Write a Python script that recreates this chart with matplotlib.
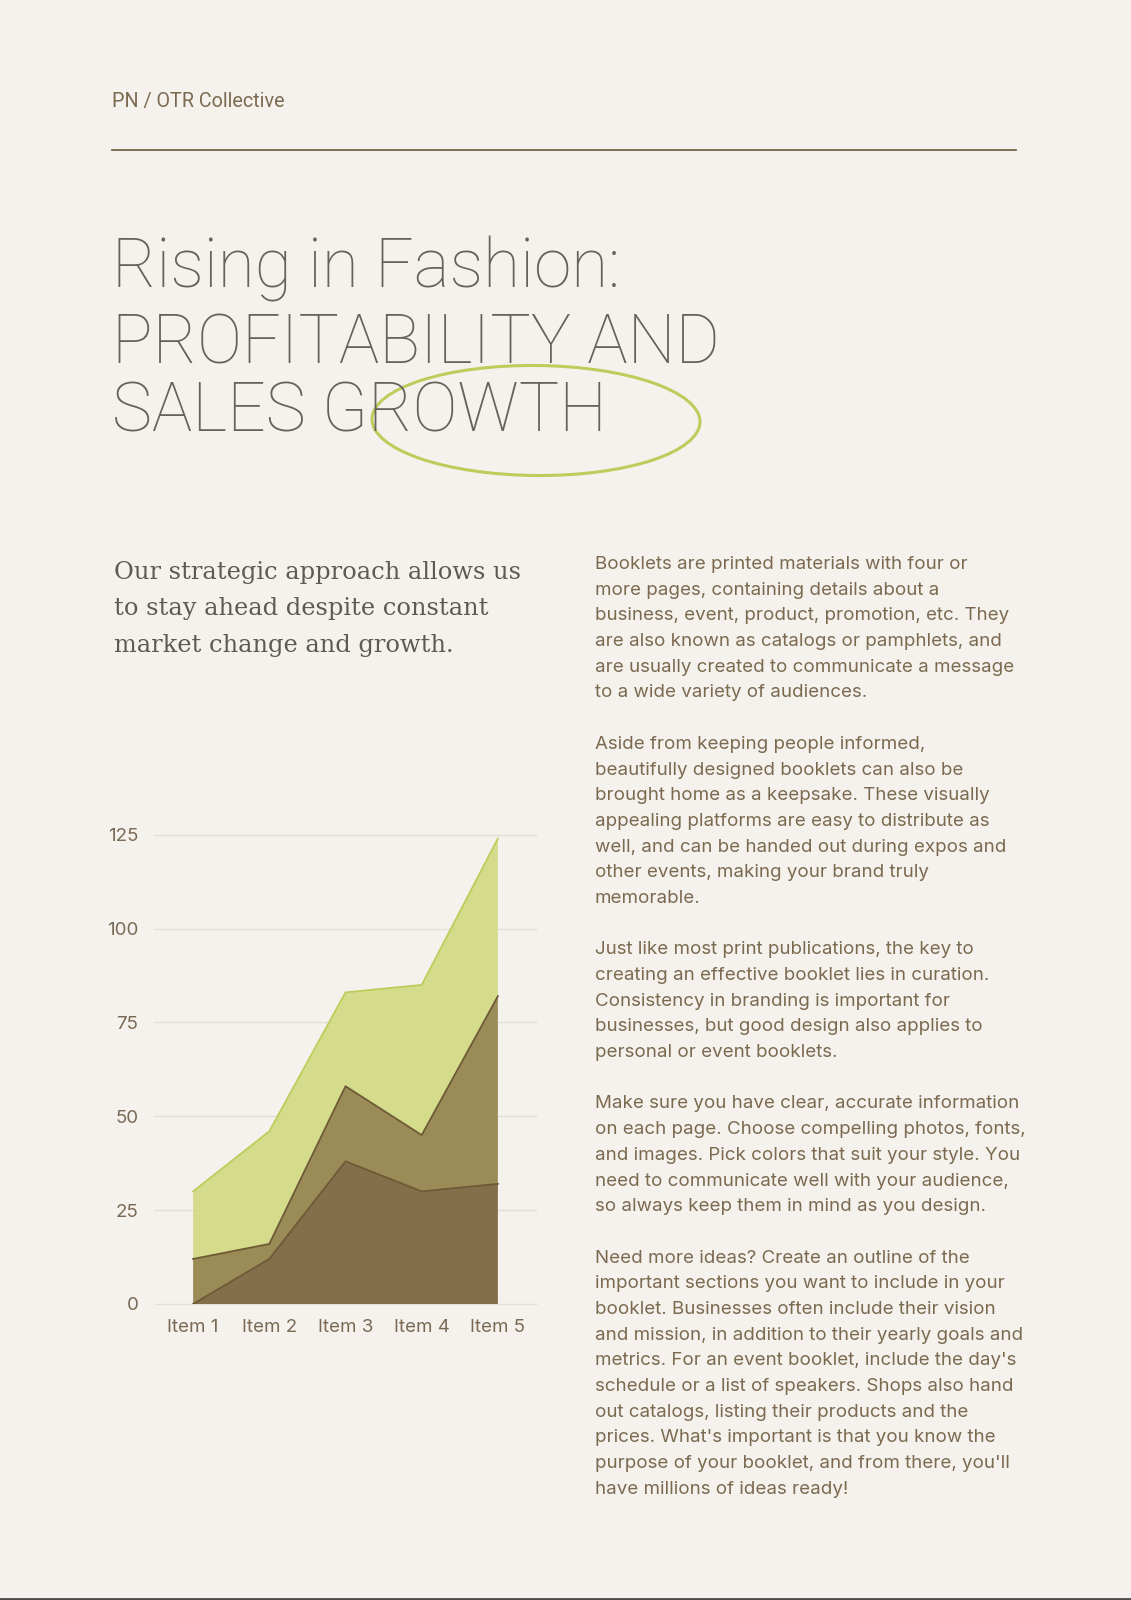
import numpy as np
import matplotlib
matplotlib.use("Agg")
import matplotlib.pyplot as plt
from matplotlib.patches import Ellipse

# ---------------------------------------------------------
# data
# ---------------------------------------------------------
items = ["Item 1", "Item 2", "Item 3", "Item 4", "Item 5"]
series_a = [0, 12, 38, 30, 32]    # bottom layer (dark brown)
series_b = [12, 4, 20, 15, 50]    # middle layer (olive)
series_c = [18, 30, 25, 40, 42]   # top layer (lime)
y_ticks = [0, 25, 50, 75, 100, 125]

header = "PN / OTR Collective"
title_lines = ["Rising in Fashion:", "PROFITABILITY AND", "SALES GROWTH"]
sub_lines = ["Our strategic approach allows us",
             "to stay ahead despite constant",
             "market change and growth."]
body_lines = [
    "Booklets are printed materials with four or",
    "more pages, containing details about a",
    "business, event, product, promotion, etc. They",
    "are also known as catalogs or pamphlets, and",
    "are usually created to communicate a message",
    "to a wide variety of audiences.",
    "",
    "Aside from keeping people informed,",
    "beautifully designed booklets can also be",
    "brought home as a keepsake. These visually",
    "appealing platforms are easy to distribute as",
    "well, and can be handed out during expos and",
    "other events, making your brand truly",
    "memorable.",
    "",
    "Just like most print publications, the key to",
    "creating an effective booklet lies in curation.",
    "Consistency in branding is important for",
    "businesses, but good design also applies to",
    "personal or event booklets.",
    "",
    "Make sure you have clear, accurate information",
    "on each page. Choose compelling photos, fonts,",
    "and images. Pick colors that suit your style. You",
    "need to communicate well with your audience,",
    "so always keep them in mind as you design.",
    "",
    "Need more ideas? Create an outline of the",
    "important sections you want to include in your",
    "booklet. Businesses often include their vision",
    "and mission, in addition to their yearly goals and",
    "metrics. For an event booklet, include the day's",
    "schedule or a list of speakers. Shops also hand",
    "out catalogs, listing their products and the",
    "prices. What's important is that you know the",
    "purpose of your booklet, and from there, you'll",
    "have millions of ideas ready!",
]

# colours
BG = "#F5F2ED"
DARK = "#846F4A"
OLIVE = "#9A8B57"
LIME = "#CFD97A"
EDGE = "#6E5A37"
LIME_EDGE = "#BCCD5C"
TITLE_COL = "#67615D"
TEXT_COL = "#7B6A50"

W, H = 1131, 1600
fig = plt.figure(figsize=(W / 100, H / 100), dpi=100, facecolor=BG)
renderer = fig.canvas.get_renderer()


def fit_size(text, target_px, **kw):
    # font size that makes `text` about target_px wide
    t = fig.text(0, 0, text, fontsize=20, **kw)
    w = t.get_window_extent(renderer).width
    t.remove()
    return 20 * target_px / w


# ---------------------------------------------------------
# page overlay in pixel coordinates
# ---------------------------------------------------------
page = fig.add_axes([0, 0, 1, 1])
page.set_xlim(0, W)
page.set_ylim(H, 0)
page.axis("off")

hs = fit_size(header, 173, family="Roboto")
page.text(112, 107, header, fontsize=hs, family="Roboto", color=TEXT_COL, va="baseline")
page.plot([112, 1016], [150, 150], color="#7A6548", lw=1.3)

ts = fit_size(title_lines[1], 607, family="Roboto", weight="light")
for txt, base in zip(title_lines, [287, 364, 431]):
    page.text(112, base, txt, fontsize=ts, family="Roboto", weight="light",
              color=TITLE_COL, va="baseline")

page.add_patch(Ellipse((536, 420.5), 328, 110, angle=0.5, fill=False,
                       ec=LIME_EDGE, lw=2.2))

ss = fit_size(sub_lines[0], 405, family="DejaVu Serif")
for i, txt in enumerate(sub_lines):
    page.text(114, 579 + i * 36.5, txt, fontsize=ss, family="DejaVu Serif",
              color="#5F5955", va="baseline")

bs = fit_size(body_lines[4], 418, family="Inter")
for i, txt in enumerate(body_lines):
    if txt:
        page.text(595, 569 + i * 25.69, txt, fontsize=bs, family="Inter",
                  color=TEXT_COL, va="baseline")

page.plot([0, W], [1599, 1599], color="#4B4B4B", lw=2)

# ---------------------------------------------------------
# stacked area chart
# ---------------------------------------------------------
ax = fig.add_axes([155 / W, 1 - 1304 / H, 381 / W, (1304 - 834.7) / H])
ax.set_facecolor("none")
x = np.arange(len(items))
polys = ax.stackplot(x, series_a, series_b, series_c,
                     colors=[DARK, OLIVE, LIME], zorder=2)
polys[2].set_alpha(0.85)

cum_ab = np.add(series_a, series_b)
cum_abc = cum_ab + np.array(series_c)
ax.plot(x, series_a, color=EDGE, lw=1.3, zorder=3)
ax.plot(x, cum_ab, color=EDGE, lw=1.3, zorder=3)
ax.plot(x, cum_abc, color=LIME_EDGE, lw=1.3, zorder=3)

ax.set_xlim(-0.5, len(items) - 0.5)
ax.set_ylim(0, 125)
ax.set_yticks(y_ticks)
ax.set_xticks(x)
ax.set_xticklabels(items)
for s in ax.spines.values():
    s.set_visible(False)
ax.grid(axis="y", color="#E3DFD8", lw=1, zorder=1)
for gl in ax.get_ygridlines():
    gl.set_clip_on(False)
ax.set_axisbelow(True)
ax.tick_params(length=0, labelsize=13.5, labelcolor="#7A6A55", pad=12)
ax.tick_params(axis="x", pad=11)
for lab in ax.get_xticklabels() + ax.get_yticklabels():
    lab.set_family("Inter")

fig.savefig("out.png", dpi=100, facecolor=BG)
